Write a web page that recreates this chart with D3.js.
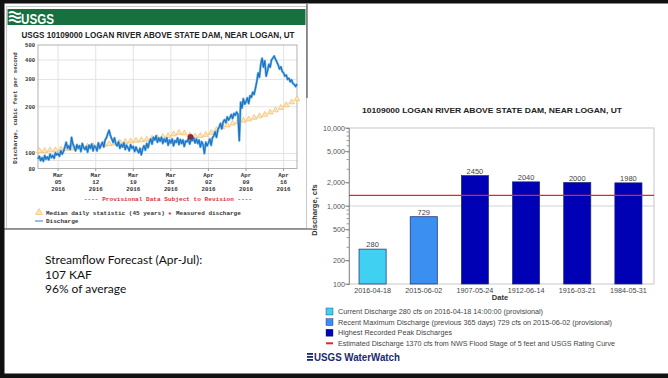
<!DOCTYPE html>
<html>
<head>
<meta charset="utf-8">
<script src="https://cdn.jsdelivr.net/npm/d3@7"></script>
<style>
  html, body { margin: 0; padding: 0; background: #fff; }
  svg { display: block; }
</style>
</head>
<body>
<svg id="slide" width="668" height="378"></svg>
<script>
// ---------- Hydrograph data (USGS 10109000) ----------
const hydroTitle = "USGS 10109000 LOGAN RIVER ABOVE STATE DAM, NEAR LOGAN, UT";
const dischargeStart = "2016-03-01 06:00";
const dischargeStepHours = 6;
// instantaneous discharge, cfs, every 6 hours
const dischargeCfs = [
  92, 96, 90,                 // Mar 1
  94, 89, 97, 92,             // Mar 2
  95, 91, 99, 94,
  97, 93, 101, 98,
  100, 96, 104, 99,           // Mar 5
  103, 110, 118, 108,
  112, 106, 127, 115,
  110, 104, 114, 108,
  112, 103, 116, 109,
  106, 111, 102, 113,         // Mar 10
  108, 115, 104, 112,
  110, 104, 117, 108,
  113, 118, 110, 122,
  126, 134, 141, 130,
  124, 118, 126, 115,         // Mar 15
  112, 119, 108, 114,
  110, 117, 106, 113,
  109, 104, 114, 108,
  111, 103, 110, 105,
  101, 108, 98, 107,          // Mar 20
  112, 105, 116, 109,
  118, 124, 115, 127,
  122, 130, 118, 126,
  120, 127, 116, 124,
  119, 126, 113, 122,         // Mar 25
  117, 124, 112, 121,
  118, 126, 114, 123,
  116, 122, 111, 120,
  119, 125, 115, 122,
  121, 126, 117, 124,         // Mar 30
  116, 122, 110, 119,
  114, 100, 118, 112,         // Apr 1
  117, 124, 113, 126,
  130, 138, 127, 142,
  148, 156, 144, 160,
  165, 158, 172, 164,         // Apr 5
  170, 178, 168, 181,
  176, 185, 178, 121,
  214, 196, 225, 208,
  215, 228, 210, 236,
  230, 248, 240, 262,         // Apr 10
  290, 330, 310, 375,
  410, 360, 395, 315,
  340, 375, 360, 400,
  412, 424, 405, 388,
  372, 350, 362, 338,         // Apr 15
  330, 315, 320, 300,
  305, 290, 298, 282,
  278, 270, 280               // Apr 18
];
const medianStart = "2016-03-01 12:00";
// median daily statistic (45 years), cfs, one per day Mar 1 .. Apr 18
const medianCfs = [
  104, 104, 105, 105, 106, 107, 108, 109, 110, 111,
  112, 113, 114, 115, 116, 118, 119, 120, 121, 122,
  123, 125, 126, 128, 130, 133, 136, 135, 131, 129,
  130, 132, 136, 142, 148, 152, 156, 160, 163, 166,
  170, 174, 178, 184, 190, 197, 205, 214, 224
];
const measuredTime = "2016-03-29 16:00";
const measuredCfs = 128;
const hydroTickDates = ["2016-03-05", "2016-03-12", "2016-03-19", "2016-03-26", "2016-04-02", "2016-04-09", "2016-04-16"];
const hydroYLabels = [80, 100, 200, 300, 400, 500];
const hydroYGrid = [90, 100, 200, 300, 400];

// ---------- Peak-discharge bar chart data ----------
const barTitle = "10109000 LOGAN RIVER ABOVE STATE DAM, NEAR LOGAN, UT";
const barDates = ["2016-04-18", "2015-06-02", "1907-05-24", "1912-06-14", "1916-03-21", "1984-05-31"];
const barCfs = [280, 729, 2450, 2040, 2000, 1980];
const barKinds = ["current", "recent", "peak", "peak", "peak", "peak"];
const floodCfs = 1370;
const barYTicks = [100, 200, 500, 1000, 2000, 5000, 10000];
const barLegend = [
  { kind: "current", text: "Current Discharge 280 cfs on 2016-04-18 14:00:00 (provisional)", width: 205 },
  { kind: "recent", text: "Recent Maximum Discharge (previous 365 days) 729 cfs on 2015-06-02 (provisional)", width: 274 },
  { kind: "peak", text: "Highest Recorded Peak Discharges", width: 114 },
  { kind: "flood", text: "Estimated Discharge 1370 cfs from NWS Flood Stage of 5 feet and USGS Rating Curve", width: 277 }
];

// ---------- Forecast note ----------
const forecastLines = ["Streamflow Forecast (Apr-Jul):", "107 KAF", "96% of average"];

// =====================================================
const svg = d3.select("#slide");
const parseTime = d3.timeParse("%Y-%m-%d %H:%M");
const parseDay = d3.timeParse("%Y-%m-%d");
const mono = "'Liberation Mono', 'DejaVu Sans Mono', monospace";
const sans = "'Liberation Sans', Arial, sans-serif";

// ---------- Hydrograph panel ----------
const hydro = svg.append("g");
hydro.append("rect").attr("x", 6.5).attr("y", 6.5).attr("width", 300).attr("height", 222)
  .attr("fill", "#fff").attr("stroke", "#c8c8c8");
hydro.append("rect").attr("x", 7.5).attr("y", 9).attr("width", 298).attr("height", 16)
  .attr("fill", "#17703f");
// USGS mark in the header
const mark = hydro.append("g").attr("transform", "translate(9,11)");
[0, 4, 8].forEach(dy => {
  mark.append("path").attr("d", `M0,${dy + 2} q3,-2 6,0 t6,0`)
    .attr("fill", "none").attr("stroke", "#fff").attr("stroke-width", 1.8);
});
hydro.append("text").attr("x", 21).attr("y", 23.5).text("USGS")
  .attr("font-family", sans).attr("font-weight", "bold").attr("font-size", 14)
  .attr("fill", "#fff").attr("textLength", 33).attr("lengthAdjust", "spacingAndGlyphs");
hydro.append("text").attr("x", 158).attr("y", 37.5).attr("text-anchor", "middle").text(hydroTitle)
  .attr("font-family", sans).attr("font-weight", "bold").attr("font-size", 9.5)
  .attr("fill", "#222").attr("textLength", 273).attr("lengthAdjust", "spacingAndGlyphs");

const dischargeT0 = parseTime(dischargeStart);
const discharge = dischargeCfs.map((v, i) => ({ t: d3.timeHour.offset(dischargeT0, i * dischargeStepHours), v }));
const medianT0 = parseTime(medianStart);
const median = medianCfs.map((v, i) => ({ t: d3.timeDay.offset(medianT0, i), v }));

const hx = d3.scaleTime().domain([discharge[0].t, discharge[discharge.length - 1].t]).range([38, 297]);
const hy = d3.scaleLog().domain([80, 500]).range([168.5, 45]);

const hPlot = hydro.append("g");
hydroYGrid.forEach(v => {
  hPlot.append("line").attr("x1", 38).attr("x2", 297).attr("y1", hy(v)).attr("y2", hy(v))
    .attr("stroke", "#dcdcdc").attr("stroke-width", 0.8);
});
hydroTickDates.forEach(d => {
  const x = hx(parseDay(d));
  hPlot.append("line").attr("x1", x).attr("x2", x).attr("y1", 45).attr("y2", 168.5)
    .attr("stroke", "#dcdcdc").attr("stroke-width", 0.8);
});
hPlot.append("rect").attr("x", 38).attr("y", 45).attr("width", 259).attr("height", 123.5)
  .attr("fill", "none").attr("stroke", "#a8a8a8").attr("stroke-width", 0.9);

// y labels
hydroYLabels.forEach(v => {
  hPlot.append("text").attr("x", 35).attr("y", hy(v) + 2).attr("text-anchor", "end").text(v)
    .attr("font-family", mono).attr("font-weight", "bold").attr("font-size", 5.5).attr("fill", "#333");
});
hydro.append("text").attr("transform", "translate(17,108) rotate(-90)").attr("text-anchor", "middle")
  .text("Discharge, cubic feet per second")
  .attr("font-family", mono).attr("font-weight", "bold").attr("font-size", 5.8).attr("fill", "#333");

// x labels
const fmtMon = d3.timeFormat("%b"), fmtDay = d3.timeFormat("%d"), fmtYr = d3.timeFormat("%Y");
hydroTickDates.forEach(d => {
  const dt = parseDay(d), x = hx(dt);
  hPlot.append("line").attr("x1", x).attr("x2", x).attr("y1", 168.5).attr("y2", 171).attr("stroke", "#999");
  [fmtMon(dt), fmtDay(dt), fmtYr(dt)].forEach((s, i) => {
    hPlot.append("text").attr("x", x).attr("y", 177 + i * 7).attr("text-anchor", "middle").text(s)
      .attr("font-family", mono).attr("font-weight", "bold").attr("font-size", 5.8).attr("fill", "#333");
  });
});

// median triangles
const tri = d3.symbol().type(d3.symbolTriangle).size(14);
hPlot.selectAll(".med").data(median).join("path")
  .attr("transform", d => `translate(${hx(d.t)},${hy(d.v)})`)
  .attr("d", tri).attr("fill", "#fde6b8").attr("stroke", "#f2b45a").attr("stroke-width", 0.6);

// discharge line
const line = d3.line().x(d => hx(d.t)).y(d => hy(d.v));
hPlot.append("path").datum(discharge).attr("d", line)
  .attr("fill", "none").attr("stroke", "#6fb5e8").attr("stroke-width", 2.4).attr("stroke-linejoin", "round");
hPlot.append("path").datum(discharge).attr("d", line)
  .attr("fill", "none").attr("stroke", "#1d6fbf").attr("stroke-width", 1.1).attr("stroke-linejoin", "round");

// measured discharge
hPlot.append("circle").attr("cx", hx(parseTime(measuredTime))).attr("cy", hy(measuredCfs)).attr("r", 2.6)
  .attr("fill", "#8a2848").attr("stroke", "#5a1030").attr("stroke-width", 0.5);

// provisional note and legend
hydro.append("text").attr("x", 168).attr("y", 201).attr("text-anchor", "middle")
  .text("---- Provisional Data Subject to Revision ----")
  .attr("font-family", mono).attr("font-weight", "bold").attr("font-size", 6.1).attr("fill", "#e0303a");
hydro.append("path").attr("transform", "translate(39,212.5)").attr("d", d3.symbol().type(d3.symbolTriangle).size(20))
  .attr("fill", "#fde6b8").attr("stroke", "#f2b45a").attr("stroke-width", 0.6);
hydro.append("text").attr("x", 46).attr("y", 215).text("Median daily statistic (45 years)")
  .attr("font-family", mono).attr("font-weight", "bold").attr("font-size", 6).attr("fill", "#333");
hydro.append("text").attr("x", 170).attr("y", 216.5).attr("text-anchor", "middle").text("*")
  .attr("font-family", mono).attr("font-weight", "bold").attr("font-size", 8).attr("fill", "#e0303a");
hydro.append("text").attr("x", 176).attr("y", 215).text("Measured discharge")
  .attr("font-family", mono).attr("font-weight", "bold").attr("font-size", 6).attr("fill", "#333");
hydro.append("line").attr("x1", 35).attr("x2", 43).attr("y1", 221).attr("y2", 221)
  .attr("stroke", "#4a9ad8").attr("stroke-width", 1.2);
hydro.append("text").attr("x", 46).attr("y", 223).text("Discharge")
  .attr("font-family", mono).attr("font-weight", "bold").attr("font-size", 6).attr("fill", "#333");

// panel edges
svg.append("line").attr("x1", 4).attr("x2", 312).attr("y1", 229).attr("y2", 229)
  .attr("stroke", "#7a7a7a").attr("stroke-width", 1.6);
svg.append("line").attr("x1", 307).attr("x2", 307).attr("y1", 4).attr("y2", 98)
  .attr("stroke", "#555").attr("stroke-width", 1.2);

// ---------- Forecast note ----------
forecastLines.forEach((s, i) => {
  svg.append("text").attr("x", 45).attr("y", 264 + i * 14.5).text(s)
    .attr("font-family", "Lato, 'Open Sans', sans-serif").attr("font-size", 12).attr("fill", "#111");
});

// ---------- Bar chart ----------
const bars = svg.append("g");
const bx = d3.scaleBand().domain(barDates).range([347, 654]).paddingInner(0.47).paddingOuter(0.235);
const by = d3.scaleLog().domain([100, 10000]).range([284, 128]);
const barFill = { current: "#3fd0f2", recent: "#3a8ff0", peak: "#0000b4" };

bars.append("text").attr("x", 492).attr("y", 112.5).attr("text-anchor", "middle").text(barTitle)
  .attr("font-family", sans).attr("font-weight", "bold").attr("font-size", 8)
  .attr("fill", "#222").attr("textLength", 260).attr("lengthAdjust", "spacingAndGlyphs");

// frame and 1,000 gridline
bars.append("rect").attr("x", 349).attr("y", 128).attr("width", 305).attr("height", 156)
  .attr("fill", "#fff").attr("stroke", "#b8b8b8").attr("stroke-width", 0.8);
bars.append("line").attr("x1", 349).attr("x2", 654).attr("y1", by(1000)).attr("y2", by(1000))
  .attr("stroke", "#c8c8c8").attr("stroke-width", 0.8);

// left axis with minor ticks at every 1..9 × 10^n
const minorTicks = [100, 1000].flatMap(base => d3.range(1, 10).map(m => m * base)).concat([10000]);
const yAxis = d3.axisLeft(by).tickValues(minorTicks).tickSize(2.5).tickFormat(() => "");
const ya = bars.append("g").attr("transform", "translate(349,0)").call(yAxis);
ya.selectAll("path,line").attr("stroke", "#777").attr("stroke-width", 0.7);
barYTicks.forEach(v => {
  bars.append("line").attr("x1", 345).attr("x2", 349).attr("y1", by(v)).attr("y2", by(v))
    .attr("stroke", "#777").attr("stroke-width", 0.7);
  bars.append("text").attr("x", 345).attr("y", by(v) + 2.5).attr("text-anchor", "end")
    .text(d3.format(",")(v))
    .attr("font-family", sans).attr("font-size", 7.2).attr("fill", "#555");
});
bars.append("text").attr("transform", "translate(317,210) rotate(-90)").attr("text-anchor", "middle")
  .text("Discharge, cfs").attr("font-family", sans).attr("font-weight", "bold").attr("font-size", 7.5).attr("fill", "#333");

// bars
const barData = barDates.map((d, i) => ({ d, v: barCfs[i], k: barKinds[i] }));
bars.selectAll(".bar").data(barData).join("rect")
  .attr("x", d => bx(d.d)).attr("width", bx.bandwidth())
  .attr("y", d => by(d.v)).attr("height", d => 284 - by(d.v))
  .attr("fill", d => barFill[d.k]).attr("stroke", "#1b2a70").attr("stroke-width", 0.7);
bars.selectAll(".val").data(barData).join("text")
  .attr("x", d => bx(d.d) + bx.bandwidth() / 2).attr("y", d => by(d.v) - 2)
  .attr("text-anchor", "middle").text(d => d.v)
  .attr("font-family", sans).attr("font-size", 7.5).attr("fill", "#444");

// flood-stage discharge
bars.append("line").attr("x1", 349).attr("x2", 654).attr("y1", by(floodCfs)).attr("y2", by(floodCfs))
  .attr("stroke", "#e8262a").attr("stroke-width", 1.3);

// x labels
barDates.forEach(d => {
  bars.append("text").attr("x", bx(d) + bx.bandwidth() / 2).attr("y", 292.5).attr("text-anchor", "middle").text(d)
    .attr("font-family", sans).attr("font-size", 7.2).attr("fill", "#444");
});
bars.append("text").attr("x", 500).attr("y", 300).attr("text-anchor", "middle").text("Date")
  .attr("font-family", sans).attr("font-weight", "bold").attr("font-size", 7.5).attr("fill", "#333");

// legend
barLegend.forEach((item, i) => {
  const y = 311.5 + i * 10.6;
  if (item.kind === "flood") {
    bars.append("line").attr("x1", 326).attr("x2", 333).attr("y1", y).attr("y2", y)
      .attr("stroke", "#e8262a").attr("stroke-width", 2);
  } else {
    bars.append("rect").attr("x", 326).attr("y", y - 3.5).attr("width", 7).attr("height", 7)
      .attr("fill", barFill[item.kind]).attr("stroke", "#1b2a70").attr("stroke-width", 0.4);
  }
  bars.append("text").attr("x", 338).attr("y", y + 2.5).text(item.text)
    .attr("font-family", sans).attr("font-size", 7.2).attr("fill", "#444")
    .attr("textLength", item.width).attr("lengthAdjust", "spacingAndGlyphs");
});

// WaterWatch mark
const ww = bars.append("g").attr("transform", "translate(307,353)");
[0, 3, 6].forEach(dy => {
  ww.append("rect").attr("x", 0).attr("y", dy).attr("width", 6).attr("height", 1.8).attr("fill", "#1b2a70");
});
bars.append("text").attr("x", 314).attr("y", 361).text("USGS WaterWatch")
  .attr("font-family", sans).attr("font-weight", "bold").attr("font-size", 10)
  .attr("fill", "#1b2a70").attr("textLength", 86).attr("lengthAdjust", "spacingAndGlyphs");

// ---------- Slide frame ----------
svg.append("rect").attr("x", 0).attr("y", 0).attr("width", 668).attr("height", 3.5).attr("fill", "#111");
svg.append("rect").attr("x", 0).attr("y", 0).attr("width", 4.5).attr("height", 378).attr("fill", "#111");
svg.append("rect").attr("x", 0).attr("y", 373.5).attr("width", 668).attr("height", 4.5).attr("fill", "#111");
</script>
</body>
</html>
